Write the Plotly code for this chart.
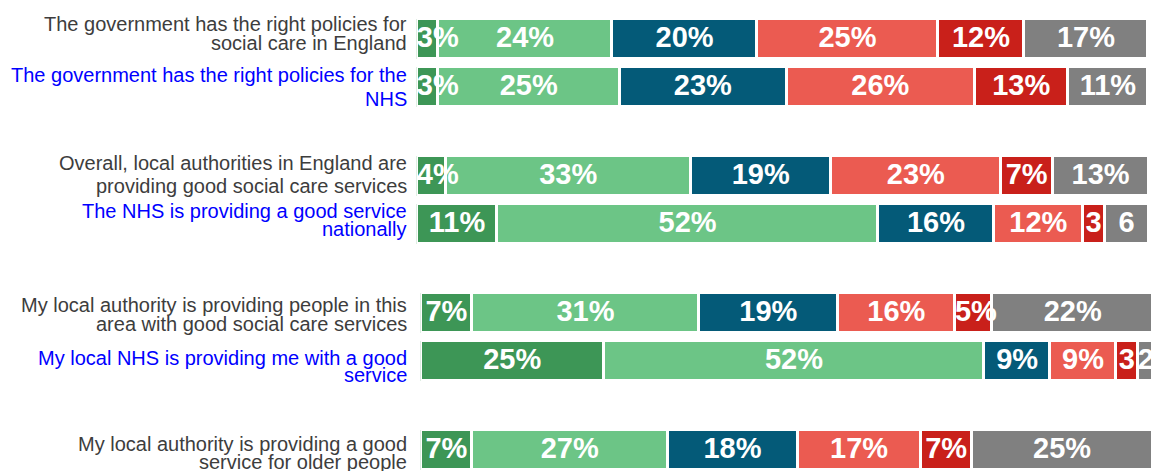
import numpy as np
import plotly.graph_objects as go

# ---------------- data ----------------
categories = [
    "The government has the right policies for\nsocial care in England",
    "The government has the right policies for the\nNHS",
    "Overall, local authorities in England are\nproviding good social care services",
    "The NHS is providing a good service\nnationally",
    "My local authority is providing people in this\narea with good social care services",
    "My local NHS is providing me with a good\nservice",
    "My local authority is providing a good\nservice for older people",
]
is_nhs = [False, True, False, True, False, True, False]

series_names = ["Strongly agree", "Tend to agree", "Neither agree nor disagree",
                "Tend to disagree", "Strongly disagree", "Don't know"]

strongly_agree = [2.9, 2.9, 4.0, 11.0, 7.0, 25.0, 7.0]
tend_agree = [23.8, 24.8, 33.4, 52.0, 31.0, 52.0, 26.7]
neither = [19.8, 22.8, 19.2, 15.9, 19.0, 9.0, 17.8]
tend_disagree = [24.7, 25.7, 23.2, 12.1, 16.0, 9.0, 16.8]
strongly_disagree = [11.8, 12.8, 7.1, 3.0, 5.1, 3.0, 7.0]
dont_know = [16.9, 10.9, 13.1, 6.0, 22.0, 2.0, 24.7]

strongly_agree_lbl = ["3%", "3%", "4%", "11%", "7%", "25%", "7%"]
tend_agree_lbl = ["24%", "25%", "33%", "52%", "31%", "52%", "27%"]
neither_lbl = ["20%", "23%", "19%", "16%", "19%", "9%", "18%"]
tend_disagree_lbl = ["25%", "26%", "23%", "12%", "16%", "9%", "17%"]
strongly_disagree_lbl = ["12%", "13%", "7%", "3", "5%", "3", "7%"]
dont_know_lbl = ["17%", "11%", "13%", "6", "22%", "2", "25%"]

# ---------------- styles / layout ----------------
W, H = 1152, 471
colors = ["#3d9656", "#6cc586", "#045a78", "#eb5b51", "#c9201a", "#808080"]
label_gray = "#3d3d3d"
label_blue = "#0000ff"
FONT = "Liberation Sans, Arial, Helvetica, sans-serif"
BAR_FONT_SIZE = 29

row_group = [0, 0, 1, 1, 2, 2, 3]
row_in_pair = [0, 1, 0, 1, 0, 1, 0]
row_panel = [0, 0, 0, 0, 1, 1, 1]
PAIR_STEP = 2.854
PX_PER_ROW = 48.0
FIRST_ROW_PX = 39.3
BAR_WIDTH = 0.827
# pixel extents of the value axis (0 -> 100) for the two panels
panel_left_px = [416.8, 420.8]
PX_PER_UNIT = 7.317
LABEL_RIGHT_PX = 409
# per-row vertical offsets (px) of the two label lines from bar centre
label_offsets = [(-15.5, 4.0), (-12.2, 12.0), (-13.5, 9.4), (-13.7, 4.5),
                 (-8.0, 11.0), (-3.5, 14.2), (-6.3, 12.0)]

positions = [g * PAIR_STEP + j for g, j in zip(row_group, row_in_pair)]

values = [strongly_agree, tend_agree, neither, tend_disagree, strongly_disagree, dont_know]
labels = [strongly_agree_lbl, tend_agree_lbl, neither_lbl, tend_disagree_lbl,
          strongly_disagree_lbl, dont_know_lbl]

vals = np.array(values)           # series x rows
cum_end = np.cumsum(vals, axis=0)
cum_start = cum_end - vals
mids = cum_start + vals / 2


def text_width_px(s):
    em = sum(0.889 if ch == "%" else 0.556 for ch in s)
    return em * BAR_FONT_SIZE


fig = go.Figure()
axis_ids = ["x", "x2"]

for p in range(2):
    rows = [i for i in range(len(categories)) if row_panel[i] == p]
    for s in range(len(series_names)):
        fig.add_trace(go.Bar(
            orientation="h",
            name=series_names[s],
            x=[values[s][i] for i in rows],
            y=[positions[i] for i in rows],
            width=BAR_WIDTH,
            marker=dict(color=colors[s], line=dict(color="white", width=3)),
            xaxis=axis_ids[p], yaxis="y",
            showlegend=False, hoverinfo="skip",
        ))

# segment labels drawn on top of all bars
for p in range(2):
    rows = [i for i in range(len(categories)) if row_panel[i] == p]
    xs, ys, ts, tp = [], [], [], []
    for s in range(len(series_names)):
        for i in rows:
            ys.append(positions[i])
            ts.append(labels[s][i])
            seg_px = values[s][i] * PX_PER_UNIT
            if text_width_px(labels[s][i]) > seg_px:
                xs.append(cum_start[s][i])
                tp.append("middle right")
            else:
                xs.append(mids[s][i])
                tp.append("middle center")
    fig.add_trace(go.Scatter(
        x=xs, y=ys, text=ts, mode="text", textposition=tp,
        textfont=dict(family=FONT, size=BAR_FONT_SIZE, color="white", weight="bold"),
        xaxis=axis_ids[p], yaxis="y", cliponaxis=False,
        showlegend=False, hoverinfo="skip",
    ))

# category labels (each line placed separately)
annotations = []
for i, cat in enumerate(categories):
    lines = cat.split("\n")
    for k, line in enumerate(lines):
        annotations.append(dict(
            text=line, xref="paper", x=LABEL_RIGHT_PX / W, xanchor="right",
            yref="y", y=positions[i], yanchor="middle",
            yshift=-label_offsets[i][k], showarrow=False,
            font=dict(family=FONT, size=20,
                      color=label_blue if is_nhs[i] else label_gray),
        ))

y_top = -FIRST_ROW_PX / PX_PER_ROW
y_bottom = (H - FIRST_ROW_PX) / PX_PER_ROW

ax_common = dict(showgrid=False, zeroline=False, showticklabels=False,
                 showline=False, ticks="", fixedrange=True)
d1 = [panel_left_px[0] / W, (panel_left_px[0] + 100 * PX_PER_UNIT) / W]
d2 = [panel_left_px[1] / W, 1.0]
r2_end = (W - panel_left_px[1]) / PX_PER_UNIT

fig.update_layout(
    width=W, height=H,
    margin=dict(l=0, r=0, t=0, b=0),
    paper_bgcolor="white", plot_bgcolor="rgba(0,0,0,0)",
    barmode="stack", bargap=0,
    showlegend=False,
    xaxis=dict(domain=d1, range=[0, 100], anchor="y", **ax_common),
    xaxis2=dict(domain=d2, range=[0, r2_end], anchor="y", **ax_common),
    yaxis=dict(range=[y_bottom, y_top], anchor="x", automargin=False, **ax_common),
    annotations=annotations,
)

fig.write_html("out.html", config={"displayModeBar": False},
               post_script="document.body.style.margin='0';")
